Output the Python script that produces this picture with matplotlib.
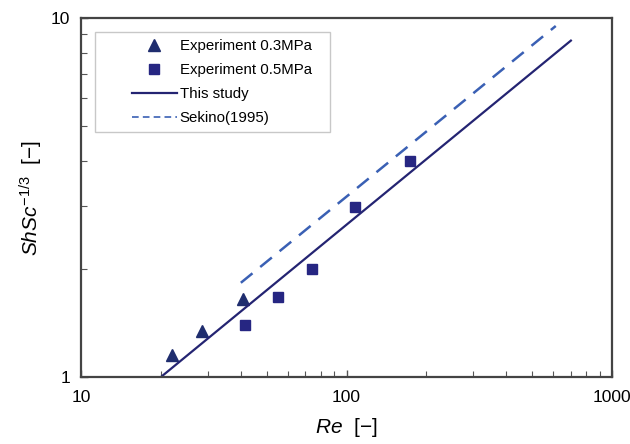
import numpy as np
import matplotlib
matplotlib.use('Agg')
import matplotlib.pyplot as plt
from matplotlib.ticker import LogLocator, NullFormatter, FixedLocator, FixedFormatter
from matplotlib.legend_handler import HandlerLine2D

plt.rcParams['font.family'] = ['Liberation Sans', 'DejaVu Sans']
plt.rcParams['mathtext.fontset'] = 'custom'
plt.rcParams['mathtext.rm'] = 'Liberation Sans'
plt.rcParams['mathtext.it'] = 'Liberation Sans:italic'

# Experiment data
re_03 = [22.1, 28.6, 40.6]
sh_03 = [1.15, 1.34, 1.65]
re_05 = [41.4, 55.1, 74.3, 107.6, 173]
sh_05 = [1.40, 1.67, 2.0, 2.98, 4.0]

# correlation lines (end points)
re_study = [20, 700]
sh_study = [1.0, 8.65]
re_sekino = [40, 614]
sh_sekino = [1.83, 9.5]


class ShortHandler(HandlerLine2D):
    # Excel-like legend: line only on the right part of the handle box
    def get_xdata(self, legend, xdescent, ydescent, width, height, fontsize):
        x0 = -xdescent + 0.41 * width
        x1 = -xdescent + width
        return np.array([x0, x1]), np.array([(x0 + x1) / 2])

    def update_prop(self, legend_handle, orig_handle, legend):
        super().update_prop(legend_handle, orig_handle, legend)
        if orig_handle.get_linestyle() == '--':
            legend_handle.set_linewidth(1.2)
            legend_handle.set_dashes((4, 2.5))


fig = plt.figure(figsize=(6.3, 4.44), dpi=100)
ax = fig.add_axes([81/630, 1 - 377/444, 531/630, 359/444])

ax.plot(re_03, sh_03, linestyle='none', marker='^', ms=8, color='#1f2d6e',
        label='Experiment 0.3MPa')
ax.plot(re_05, sh_05, linestyle='none', marker='s', ms=7, color='#262682',
        label='Experiment 0.5MPa')
ax.plot(re_study, sh_study, '-', lw=1.6, color='#242472', label='This study')
ax.plot(re_sekino, sh_sekino, '--', lw=1.8, color='#3a60b4', dashes=(6, 4),
        label='Sekino(1995)')

ax.set_xscale('log')
ax.set_yscale('log')
ax.set_xlim(10, 1000)
ax.set_ylim(1, 10)

ax.xaxis.set_major_locator(FixedLocator([10, 100, 1000]))
ax.xaxis.set_major_formatter(FixedFormatter(['10', '100', '1000']))
ax.xaxis.set_minor_locator(LogLocator(base=10, subs=np.arange(2, 10)))
ax.xaxis.set_minor_formatter(NullFormatter())
ax.yaxis.set_major_locator(FixedLocator([1, 10]))
ax.yaxis.set_major_formatter(FixedFormatter(['1', '10']))
ax.yaxis.set_minor_locator(LogLocator(base=10, subs=np.arange(2, 10)))
ax.yaxis.set_minor_formatter(NullFormatter())

ax.tick_params(which='both', direction='in', color='#555555', labelsize=12.5)
ax.tick_params(which='major', length=5, width=1)
ax.tick_params(which='minor', length=4, width=0.8)
ax.tick_params(axis='x', pad=9)
ax.tick_params(axis='y', pad=8)

for s in ax.spines.values():
    s.set_color('#444444')
    s.set_linewidth(1.6)

ax.set_xlabel(r'$\mathit{Re}$  [$-$]', fontsize=15, labelpad=8)
ax.set_ylabel(r'$\mathit{ShSc}^{\mathrm{-1/3}}$  [$-$]', fontsize=15, labelpad=4)

leg = ax.legend(loc='upper left', bbox_to_anchor=(0.026, 0.961, 0.443, 0), mode='expand',
                borderaxespad=0, fancybox=False, frameon=True, fontsize=10.8,
                handlelength=5.0, handletextpad=0.2, labelspacing=0.68, borderpad=0.45,
                handler_map={plt.Line2D: ShortHandler()})
leg.get_frame().set_edgecolor('#bbbbbb')
leg.get_frame().set_linewidth(1.0)

fig.savefig('out.png', dpi=100)
